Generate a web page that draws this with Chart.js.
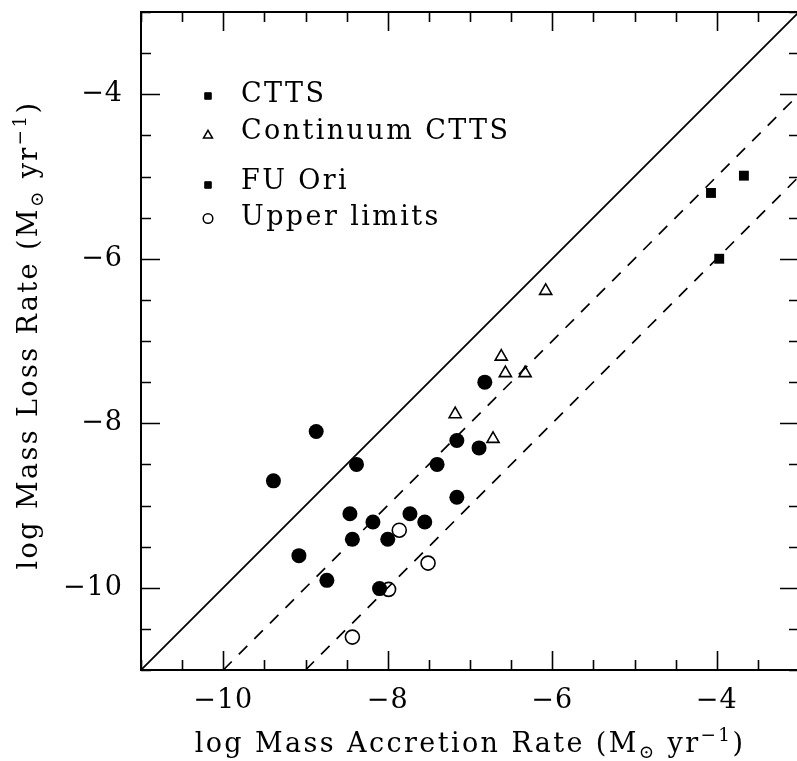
<!DOCTYPE html>
<html>
<head>
<meta charset="utf-8">
<script src="https://cdn.jsdelivr.net/npm/chart.js@4.4.1/dist/chart.umd.min.js"></script>
<style>
  html, body { margin: 0; padding: 0; background: #fff; overflow: hidden; }
  #wrap { width: 797px; height: 761px; overflow: hidden; position: relative; }
  canvas { display: block; }
</style>
</head>
<body>
<div id="wrap"><canvas id="c" width="810" height="761"></canvas></div>
<script>
// ---- data ----
const cttsX = [-8.87, -9.39, -8.38, -8.46, -8.18, -7.73, -7.55, -8.43, -8.00, -9.08, -8.74, -8.10, -7.40, -7.16, -6.89, -7.16, -6.82];
const cttsY = [-8.10, -8.70, -8.50, -9.10, -9.20, -9.10, -9.20, -9.41, -9.41, -9.61, -9.91, -10.01, -8.50, -8.21, -8.30, -8.90, -7.50];
const contX = [-6.08, -6.62, -6.57, -6.33, -7.18, -6.72];
const contY = [-6.39, -7.19, -7.39, -7.39, -7.89, -8.19];
const fuX = [-4.07, -3.67, -3.97];
const fuY = [-5.20, -4.99, -6.00];
const upperX = [-7.86, -7.99, -7.51, -8.43];
const upperY = [-9.30, -10.02, -9.70, -10.60];
// reference relations: Mloss = Macc, Macc/10, Macc/100
const solidX = [-11, -3], solidY = [-11, -3];
const dash1X = [-10, -2], dash1Y = [-11, -3];
const dash2X = [-9, -1], dash2Y = [-11, -3];
// axes
const xRange = [-11, -3], yRange = [-11, -3];
const xMajorTicks = [-10, -8, -6, -4];
const yMajorTicks = [-10, -8, -6, -4];
const minorStep = 0.5;
const legendLabels = ['CTTS', 'Continuum CTTS', 'FU Ori', 'Upper limits'];
const xTitleParts = [['log Mass Accretion Rate (M', 0], ['\u2299', -1], [' yr', 0], ['\u22121', 1], [')', 0]];
const yTitleParts = [['log Mass Loss Rate (M', 0], ['\u2299', -1], [' yr', 0], ['\u22121', 1], [')', 0]];

const pts = (xs, ys) => xs.map((x, i) => ({ x: x, y: ys[i] }));
const FONT = '"DejaVu Serif", "Liberation Serif", serif';
const fmt = v => (v < 0 ? '\u2212' + Math.abs(v) : String(v));

function measureRich(ctx, parts, size) {
  let total = 0;
  const widths = parts.map(([t, s]) => {
    ctx.font = (s ? size * 0.68 : size) + 'px ' + FONT;
    const w = ctx.measureText(t).width;
    total += w;
    return w;
  });
  return { total, widths };
}
function renderRich(ctx, parts, size, cx, baseY) {
  ctx.letterSpacing = '2.4px';
  const m = measureRich(ctx, parts, size);
  let x = cx - m.total / 2;
  ctx.textAlign = 'left';
  ctx.textBaseline = 'alphabetic';
  parts.forEach(([t, s], i) => {
    ctx.font = (s ? size * 0.68 : size) + 'px ' + FONT;
    const dy = s === -1 ? size * 0.22 : (s === 1 ? -size * 0.42 : 0);
    ctx.fillText(t, x, baseY + dy);
    x += m.widths[i];
  });
}

const framePlugin = {
  id: 'frame',
  beforeDraw(chart) {
    chart.ctx.letterSpacing = '1px';
  },
  afterDraw(chart) {
    const ctx = chart.ctx;
    const xs = chart.scales.x, ys = chart.scales.y;
    const a = chart.chartArea;
    ctx.save();
    ctx.letterSpacing = '0px';
    ctx.strokeStyle = '#000';
    ctx.lineWidth = 2;
    ctx.strokeRect(a.left, a.top, a.right - a.left, a.bottom - a.top);
    ctx.lineWidth = 1.6;
    ctx.beginPath();
    for (let v = xRange[0]; v <= xRange[1] + 1e-9; v += minorStep) {
      const major = xMajorTicks.some(t => Math.abs(t - v) < 1e-9);
      const L = major ? 19 : 10;
      const px = Math.round(xs.getPixelForValue(v)) + 0.5;
      ctx.moveTo(px, a.bottom); ctx.lineTo(px, a.bottom - L);
      ctx.moveTo(px, a.top); ctx.lineTo(px, a.top + L);
    }
    for (let v = yRange[0]; v <= yRange[1] + 1e-9; v += minorStep) {
      const major = yMajorTicks.some(t => Math.abs(t - v) < 1e-9);
      const L = major ? 19 : 10;
      const py = Math.round(ys.getPixelForValue(v)) + 0.5;
      ctx.moveTo(a.left, py); ctx.lineTo(a.left + L, py);
      ctx.moveTo(a.right, py); ctx.lineTo(a.right - L, py);
    }
    ctx.stroke();

    // legend (inside plot)
    const legendItems = [
      { style: 'rect', radius: 4.6, fill: '#000', border: 1, label: legendLabels[0], mx: 208, my: 96, ty: 102 },
      { style: 'triangle', radius: 5.2, fill: 'rgba(0,0,0,0)', border: 1.5, label: legendLabels[1], mx: 208, my: 135.5, ty: 139 },
      { style: 'rect', radius: 4.6, fill: '#000', border: 1, label: legendLabels[2], mx: 208, my: 185, ty: 189 },
      { style: 'circle', radius: 4.8, fill: 'rgba(0,0,0,0)', border: 1.5, label: legendLabels[3], mx: 208, my: 218.5, ty: 225 }
    ];
    legendItems.forEach(it => {
      ctx.fillStyle = it.fill;
      ctx.strokeStyle = '#000';
      ctx.lineWidth = it.border;
      Chart.helpers.drawPoint(ctx, { pointStyle: it.style, radius: it.radius, rotation: 0, borderWidth: it.border }, it.mx, it.my);
      ctx.fillStyle = '#000';
      ctx.letterSpacing = '2.4px';
      ctx.font = '27px ' + FONT;
      ctx.textAlign = 'left';
      ctx.textBaseline = 'alphabetic';
      ctx.fillText(it.label, 241, it.ty);
    });

    // axis titles
    ctx.fillStyle = '#000';
    renderRich(ctx, xTitleParts, 27, (a.left + a.right) / 2, 752);
    ctx.save();
    ctx.translate(37, 335);
    ctx.rotate(-Math.PI / 2);
    renderRich(ctx, yTitleParts, 27, 0, 0);
    ctx.restore();
    ctx.restore();
  }
};

const tickFont = { family: FONT, size: 27 };
const noPad = s => { s.paddingTop = 0; s.paddingBottom = 0; s.paddingLeft = 0; s.paddingRight = 0; };

new Chart(document.getElementById('c'), {
  type: 'scatter',
  data: {
    datasets: [
      { type: 'line', label: 'Mloss = Macc', data: pts(solidX, solidY), borderColor: '#000', borderWidth: 1.8, pointRadius: 0, fill: false, order: 5 },
      { type: 'line', label: 'Mloss = 0.1 Macc', data: pts(dash1X, dash1Y), borderColor: '#000', borderWidth: 1.7, borderDash: [12, 10], pointRadius: 0, fill: false, order: 5 },
      { type: 'line', label: 'Mloss = 0.01 Macc', data: pts(dash2X, dash2Y), borderColor: '#000', borderWidth: 1.7, borderDash: [12, 10], pointRadius: 0, fill: false, order: 5 },
      { label: 'CTTS', data: pts(cttsX, cttsY), pointStyle: 'circle', pointRadius: 7.5, backgroundColor: '#000', borderColor: '#000', borderWidth: 0, order: 2 },
      { label: 'Continuum CTTS', data: pts(contX, contY), pointStyle: 'triangle', pointRadius: 7, backgroundColor: 'rgba(0,0,0,0)', borderColor: '#000', borderWidth: 1.6, order: 1 },
      { label: 'FU Ori', data: pts(fuX, fuY), pointStyle: 'rect', pointRadius: 7, backgroundColor: '#000', borderColor: '#000', borderWidth: 0, order: 1 },
      { label: 'Upper limits', data: pts(upperX, upperY), pointStyle: 'circle', pointRadius: 7, backgroundColor: 'rgba(0,0,0,0)', borderColor: '#000', borderWidth: 1.6, order: 1 }
    ]
  },
  options: {
    responsive: false,
    animation: false,
    events: [],
    layout: { padding: { top: 12, right: 11, left: 0, bottom: 0 } },
    plugins: { legend: { display: false }, tooltip: { enabled: false } },
    elements: { point: { hoverRadius: 7 } },
    scales: {
      x: {
        type: 'linear', position: 'bottom', min: xRange[0], max: xRange[1],
        afterBuildTicks: s => { s.ticks = xMajorTicks.map(v => ({ value: v })); },
        afterFit: s => { s.height = 91; noPad(s); },
        grid: { display: false, drawTicks: false },
        border: { display: true, color: '#000', width: 2 },
        ticks: { font: tickFont, color: '#000', padding: 15, maxRotation: 0, callback: v => fmt(v) }
      },
      y: {
        type: 'linear', position: 'left', min: yRange[0], max: yRange[1],
        afterBuildTicks: s => { s.ticks = yMajorTicks.map(v => ({ value: v })); },
        afterFit: s => { s.width = 141; noPad(s); },
        grid: { display: false, drawTicks: false },
        border: { display: true, color: '#000', width: 2 },
        ticks: { font: tickFont, color: '#000', padding: 18, callback: v => fmt(v) }
      }
    }
  },
  plugins: [framePlugin]
});
</script>
</body>
</html>
